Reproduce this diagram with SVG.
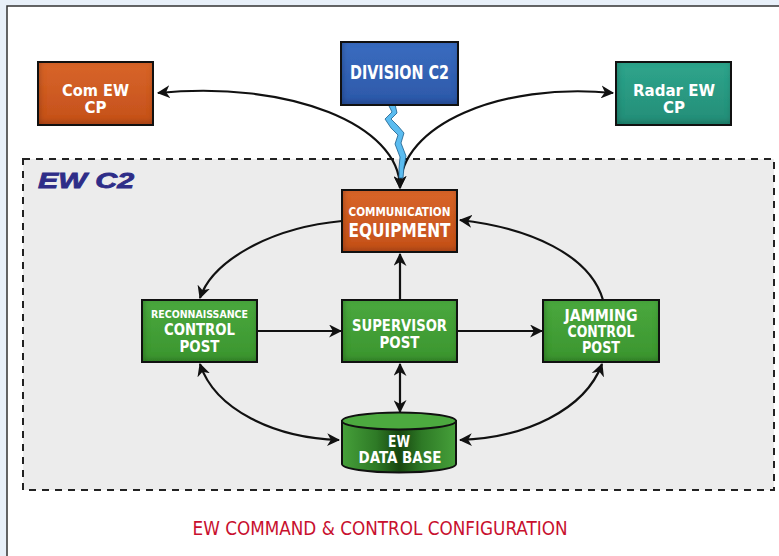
<svg xmlns="http://www.w3.org/2000/svg" width="779" height="556" viewBox="0 0 779 556">
  <defs>
    <style>
      .lbl { font-family: "Liberation Sans Narrow", "DejaVu Sans Condensed", "Arial Narrow", sans-serif; font-weight: bold; fill: #ffffff; text-anchor: middle; }
      .edge { fill: none; stroke: #111; stroke-width: 2.2; }
      .frame { fill: none; stroke: #111; stroke-width: 2; }
      .title { font-family: "DejaVu Sans Condensed", "Liberation Sans Narrow", sans-serif; fill: #c8102e; text-anchor: middle; }
    </style>
    <linearGradient id="gOrange" x1="0" y1="0" x2="0" y2="1">
      <stop offset="0" stop-color="#d8652a"/>
      <stop offset="1" stop-color="#c4501b"/>
    </linearGradient>
    <linearGradient id="gBlue" x1="0" y1="0" x2="0" y2="1">
      <stop offset="0" stop-color="#3a6cc0"/>
      <stop offset="1" stop-color="#2d58a8"/>
    </linearGradient>
    <linearGradient id="gTeal" x1="0" y1="0" x2="0" y2="1">
      <stop offset="0" stop-color="#2fa58c"/>
      <stop offset="1" stop-color="#248d77"/>
    </linearGradient>
    <linearGradient id="gGreen" x1="0" y1="0" x2="0" y2="1">
      <stop offset="0" stop-color="#4aa83e"/>
      <stop offset="1" stop-color="#3b952f"/>
    </linearGradient>
    <linearGradient id="gDrum" x1="0" y1="0" x2="1" y2="0">
      <stop offset="0" stop-color="#46a03a"/>
      <stop offset="0.3" stop-color="#2e7a26"/>
      <stop offset="0.5" stop-color="#17460f"/>
      <stop offset="0.7" stop-color="#2e7a26"/>
      <stop offset="1" stop-color="#46a03a"/>
    </linearGradient>
    <!-- inner shadow for the bevelled boxes -->
    <filter id="inset" x="-5%" y="-5%" width="110%" height="110%">
      <feFlood flood-color="#000" flood-opacity="0.6"/>
      <feComposite in2="SourceAlpha" operator="out"/>
      <feGaussianBlur stdDeviation="3"/>
      <feOffset dx="1" dy="-2"/>
      <feComposite in2="SourceAlpha" operator="in" result="sh"/>
      <feMerge><feMergeNode in="SourceGraphic"/><feMergeNode in="sh"/></feMerge>
    </filter>
    <marker id="arr" viewBox="0 0 12 12" refX="11" refY="6" markerWidth="13" markerHeight="13" markerUnits="userSpaceOnUse" orient="auto-start-reverse">
      <path d="M0,0 L12,6 L0,12 L3.5,6 Z" fill="#111"/>
    </marker>
  </defs>

  <!-- page -->
  <rect x="0" y="0" width="779" height="556" fill="#e8f0f9"/>
  <rect x="7" y="6" width="780" height="560" fill="#ffffff"/>
  <path d="M7,556 L7,6 L779,6" fill="none" stroke="#333" stroke-width="1.5"/>

  <!-- EW C2 region -->
  <g id="ew-c2">
    <rect x="23" y="159" width="751" height="331" fill="#ececec" stroke="#222" stroke-width="2" stroke-dasharray="7,6"/>
    <text x="38" y="188" font-family="'Liberation Sans', Arial, sans-serif" font-weight="900" font-style="italic" font-size="22" fill="#2e2d88" stroke="#2e2d88" stroke-width="0.8" textLength="96" lengthAdjust="spacingAndGlyphs">EW C2</text>
  </g>

  <!-- connectors -->
  <g id="connectors">
    <path class="edge" d="M158,93 C290,80 400,125 400,188" marker-start="url(#arr)" marker-end="url(#arr)"/>
    <path class="edge" d="M613,93 C500,82 400,125 400,188" marker-start="url(#arr)" marker-end="url(#arr)"/>
    <path class="edge" d="M342,221 C268,228 212,262 200,298" marker-end="url(#arr)"/>
    <path class="edge" d="M603,300 C590,255 530,228 460,220" marker-end="url(#arr)"/>
    <path class="edge" d="M400,300 L400,254" marker-end="url(#arr)"/>
    <path class="edge" d="M257,331 L341,331" marker-end="url(#arr)"/>
    <path class="edge" d="M457,331 L542,331" marker-end="url(#arr)"/>
    <path class="edge" d="M400,364 L400,412" marker-start="url(#arr)" marker-end="url(#arr)"/>
    <path class="edge" d="M200,364 C215,410 275,438 339,440" marker-start="url(#arr)" marker-end="url(#arr)"/>
    <path class="edge" d="M602,364 C585,410 525,438 460,440" marker-start="url(#arr)" marker-end="url(#arr)"/>
  </g>

  <!-- radio link from division -->
  <g id="radio-link">
    <polygon points="388,104 395,104 397,113 391,119 398,126 404,133 401,143 406,156 404,167 403,178 399,178 399,168 400,157 395,144 398,135 391,128 385,119 392,112" fill="#5bbcf0" stroke="#1b5d8a" stroke-width="0.8"/>
  </g>

  <g id="com-ew-cp">
    <rect x="38" y="62" width="115" height="63" fill="url(#gOrange)" filter="url(#inset)"/>
    <rect class="frame" x="38" y="62" width="115" height="63"/>
    <text class="lbl" x="95.5" y="96" font-size="16.5" textLength="67" lengthAdjust="spacingAndGlyphs">Com EW</text>
    <text class="lbl" x="95.5" y="113" font-size="16.5" textLength="22" lengthAdjust="spacingAndGlyphs">CP</text>
  </g>

  <g id="division-c2">
    <rect x="341" y="42" width="117" height="63" fill="url(#gBlue)" filter="url(#inset)"/>
    <rect class="frame" x="341" y="42" width="117" height="63"/>
    <text class="lbl" x="399.5" y="79" font-size="19" textLength="99" lengthAdjust="spacingAndGlyphs">DIVISION C2</text>
  </g>

  <g id="radar-ew-cp">
    <rect x="616" y="62" width="115" height="63" fill="url(#gTeal)" filter="url(#inset)"/>
    <rect class="frame" x="616" y="62" width="115" height="63"/>
    <text class="lbl" x="674" y="96" font-size="16.5" textLength="82" lengthAdjust="spacingAndGlyphs">Radar EW</text>
    <text class="lbl" x="674" y="113" font-size="16.5" textLength="22" lengthAdjust="spacingAndGlyphs">CP</text>
  </g>

  <g id="communication-equipment">
    <rect x="342" y="190" width="115" height="62" fill="url(#gOrange)" filter="url(#inset)"/>
    <rect class="frame" x="342" y="190" width="115" height="62"/>
    <text class="lbl" x="399.5" y="216" font-size="12" font-weight="normal" textLength="102" lengthAdjust="spacingAndGlyphs">COMMUNICATION</text>
    <text class="lbl" x="399.5" y="237" font-size="19" textLength="102" lengthAdjust="spacingAndGlyphs">EQUIPMENT</text>
  </g>

  <g id="reconnaissance-control-post">
    <rect x="142" y="300" width="115" height="62" fill="url(#gGreen)" filter="url(#inset)"/>
    <rect class="frame" x="142" y="300" width="115" height="62"/>
    <text class="lbl" x="199.5" y="318" font-size="11" textLength="97" lengthAdjust="spacingAndGlyphs">RECONNAISSANCE</text>
    <text class="lbl" x="199.5" y="335" font-size="16" textLength="71" lengthAdjust="spacingAndGlyphs">CONTROL</text>
    <text class="lbl" x="199.5" y="352" font-size="16" textLength="40" lengthAdjust="spacingAndGlyphs">POST</text>
  </g>

  <g id="supervisor-post">
    <rect x="342" y="300" width="115" height="62" fill="url(#gGreen)" filter="url(#inset)"/>
    <rect class="frame" x="342" y="300" width="115" height="62"/>
    <text class="lbl" x="399.5" y="331" font-size="16" textLength="95" lengthAdjust="spacingAndGlyphs">SUPERVISOR</text>
    <text class="lbl" x="399.5" y="348" font-size="16" textLength="40" lengthAdjust="spacingAndGlyphs">POST</text>
  </g>

  <g id="jamming-control-post">
    <rect x="543" y="300" width="116" height="62" fill="url(#gGreen)" filter="url(#inset)"/>
    <rect class="frame" x="543" y="300" width="116" height="62"/>
    <text class="lbl" x="601" y="321" font-size="16" textLength="73" lengthAdjust="spacingAndGlyphs">JAMMING</text>
    <text class="lbl" x="601" y="337" font-size="16" textLength="67" lengthAdjust="spacingAndGlyphs">CONTROL</text>
    <text class="lbl" x="601" y="353" font-size="16" textLength="38" lengthAdjust="spacingAndGlyphs">POST</text>
  </g>

  <g id="ew-data-base">
    <path d="M342,421 L342,464 A57,8.5 0 0 0 456,464 L456,421 Z" fill="url(#gDrum)" stroke="#111" stroke-width="2"/>
    <ellipse cx="399" cy="421" rx="57" ry="8.5" fill="#4caa3f" stroke="#111" stroke-width="2"/>
    <text class="lbl" x="399" y="447" font-size="15" textLength="22" lengthAdjust="spacingAndGlyphs">EW</text>
    <text class="lbl" x="400" y="463" font-size="15" textLength="83" lengthAdjust="spacingAndGlyphs">DATA BASE</text>
  </g>

  <text class="title" x="380" y="535" font-size="19" textLength="375" lengthAdjust="spacingAndGlyphs">EW COMMAND &amp; CONTROL CONFIGURATION</text>
</svg>
